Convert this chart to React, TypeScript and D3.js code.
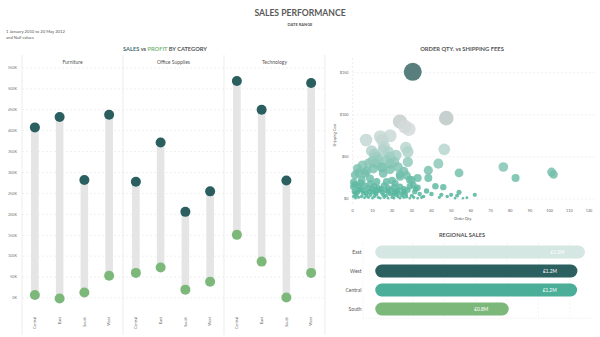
import React from 'react';
import * as d3 from 'd3';

const W = 600;
const H = 337;
const FONT = "Lato, 'Open Sans', sans-serif";

// ---- Sales vs Profit by Category (values in K) ----
const categories = ['Furniture', 'Office Supplies', 'Technology'];
const regions = ['Central', 'East', 'South', 'West'];
const furnitureSales = [408, 433, 282, 438];
const furnitureProfit = [7, -1, 13, 53];
const officeSales = [278, 372, 206, 255];
const officeProfit = [60, 73, 20, 39];
const techSales = [519, 450, 281, 514];
const techProfit = [151, 87, 1, 60];
const salesTicks = [0, 50, 100, 150, 200, 250, 300, 350, 400, 450, 500, 550];

// ---- Order qty vs shipping fees ----
const orderQty = [
  30.5, 47.5, 24, 28.5, 26.5, 19, 15, 6.8, 14, 27, 28, 46.5, 9.6, 15.5, 18, 22, 12, 19, 8, 10, 28, 19, 43.5, 2.5, 15, 19, 38.4, 76.5, 101, 102, 54, 82.7, 38.4, 33, 29, 24, 20,
  1.2, 6.2, 10.5, 14.7, 15.5, 8.8, 4.6, 12.2, 17.2, 24, 27.4, 21.5, 24, 30, 13, 17, 11, 16, 12, 5, 21, 7, 3, 23, 26,
  0.3, 2.9, 1.2, 5.4, 7.9, 10.5, 13.8, 15.5, 18, 20.6, 23, 25.6, 28, 31.5, 33, 27.4, 30.8, 37.5, 40, 42, 46, 45, 50, 53, 54, 62, 58,
  0.5, 1, 3, 4, 6, 9, 11, 13, 16, 18, 21, 22, 26, 29, 32, 34, 36,
  0.5, 1.5, 2, 3, 4.5, 6, 7, 8, 9, 10, 11, 12, 13, 14, 15, 16, 17, 18, 19, 20, 21, 22, 23, 24, 25, 26, 27, 29, 30, 31, 33, 35,
  0.8, 2.5, 4, 5.5, 7, 8.5, 10, 11.5, 12.5, 14.5, 17, 19.5, 21, 23.5, 26, 44, 48, 52, 56,
];
const shippingCost = [
  151, 96, 92, 83, 86, 75, 70, 70, 74, 61, 56, 59, 57, 58, 56, 52, 50, 50, 42, 45, 44, 42, 42, 36, 37, 35, 34, 38, 32, 29, 31, 25, 25, 25, 23, 29, 22,
  28.5, 30.5, 36, 38, 30.5, 24.5, 22.6, 20.6, 20.6, 26.5, 28, 18.6, 14.6, 22.6, 47, 46, 53, 62, 42, 40, 44, 33, 31, 38, 33,
  14.6, 10.7, 6.7, 6.7, 12.7, 8.7, 10.7, 4.8, 8.7, 4.8, 10.7, 6.7, 10.7, 8.7, 13.5, 2.8, 16.6, 9.5, 6, 15, 14, 5, 5, 4, 8, 5, 1.5,
  20, 17, 15, 19, 16, 18, 15, 13, 16, 13, 14, 9, 12, 15, 12, 6, 3,
  3, 1, 4, 2, 3, 1.5, 4, 2, 5, 1, 3, 6, 2, 1, 8, 2, 4, 1, 6, 2, 1, 5, 3, 1, 4, 2, 6, 1, 4, 2, 1, 2,
  9, 8, 11, 10, 7, 9, 12, 7, 10, 12, 10, 11, 8, 7, 9, 2, 3, 1, 0.8,
];
const qtyTicks = [0, 10, 20, 30, 40, 50, 60, 70, 80, 90, 100, 110, 120];
const costTicks = [0, 50, 100, 150];

// ---- Regional sales (M) ----
const regionNames = ['East', 'West', 'Central', 'South'];
const regionSales = [1.255, 1.207, 1.205, 0.769];
const regionColors = ['#d5e7e2', '#2b5f60', '#4bae99', '#7db87b'];
const regionGrid = [0.2, 0.4, 0.6, 0.8, 1.0, 1.2];

const DARK = '#2a5e5f';
const GREEN = '#7db87b';

export default function App() {
  // Dumbbell chart
  const y = d3.scaleLinear().domain([0, 550]).range([298, 68]);
  const panelX = d3.scaleBand<string>().domain(categories).range([22, 325]).padding(0);
  const catData = [
    { sales: furnitureSales, profit: furnitureProfit },
    { sales: officeSales, profit: officeProfit },
    { sales: techSales, profit: techProfit },
  ];

  // Scatter
  const sx = d3.scaleLinear().domain([0, 120]).range([352.7, 589]);
  const sy = d3.scaleLinear().domain([0, 150]).range([199, 72.7]);
  const sr = d3.scaleSqrt().domain([0, 151]).range([0.6, 9]);
  const sc = d3
    .scaleLinear<string>()
    .domain([0, 35, 60, 85, 151])
    .range(['#4db39a', '#7cc2b0', '#b9d6cf', '#d5dbda', '#3b6866']);
  const pts = orderQty
    .map((q, i) => ({ q, c: shippingCost[i] }))
    .sort((a, b) => b.c - a.c);

  // Regional
  const rx = d3.scaleLinear().domain([0, 1]).range([381.7, 538.5]);
  const ry = d3.scaleBand<string>().domain(regionNames).range([242.5, 318.5]).paddingInner(0.32).paddingOuter(0.16);
  const fmtM = (v: number) => '£' + d3.format('.1f')(v) + 'M';

  return (
    <svg
      width={W}
      height={H}
      style={{ position: 'absolute', left: 0, top: 0, background: '#fff' }}
      fontFamily={FONT}
    >
      {/* Titles */}
      <text x={300} y={15.5} textAnchor="middle" fontSize={8.6} fontWeight={700} fill="#5a5a5a">
        SALES PERFORMANCE
      </text>
      <text x={300} y={25.5} textAnchor="middle" fontSize={4} fontWeight={700} fill="#555">
        DATE RANGE
      </text>
      <text x={6} y={32.5} fontSize={4.2} fill="#555">
        1 January 2010 to 20 May 2012
      </text>
      <text x={6} y={38.5} fontSize={4.2} fill="#555">
        and Null values
      </text>
      <text x={165} y={51} textAnchor="middle" fontSize={5.7} fontWeight={700} fill="#555">
        <tspan fill="#3f6f70">SALES</tspan>
        <tspan> vs </tspan>
        <tspan fill={GREEN}>PROFIT</tspan>
        <tspan> BY CATEGORY</tspan>
      </text>
      <text x={462} y={51} textAnchor="middle" fontSize={5.8} fontWeight={700} fill="#555">
        ORDER QTY. vs SHIPPING FEES
      </text>

      {/* Dumbbell grid */}
      {salesTicks.map((t) => (
        <g key={'g' + t}>
          <line x1={22} x2={325} y1={y(t)} y2={y(t)} stroke="#e6e6e6" strokeWidth={0.6} strokeDasharray="2,2" />
          <text x={17} y={y(t) + 1.3} textAnchor="end" fontSize={3.8} fill="#777">
            {t + 'K'}
          </text>
        </g>
      ))}
      {[22, 123, 224, 325].map((xx) => (
        <line key={'v' + xx} x1={xx} x2={xx} y1={55} y2={335} stroke="#e4e4e4" strokeWidth={0.7} />
      ))}

      {categories.map((cat, ci) => {
        const x0 = panelX(cat)!;
        const bw = panelX.bandwidth();
        const rxs = d3.scaleBand<string>().domain(regions).range([x0 + 0.5, x0 + bw - 1.5]);
        const d = catData[ci];
        return (
          <g key={cat}>
            <text x={x0 + bw / 2} y={64} textAnchor="middle" fontSize={5} fill="#555">
              {cat}
            </text>
            {regions.map((r, ri) => {
              const cx = rxs(r)! + rxs.bandwidth() / 2;
              const s = d.sales[ri];
              const p = d.profit[ri];
              return (
                <g key={r}>
                  <rect x={cx - 3.8} y={y(Math.max(s, p))} width={7.6} height={Math.abs(y(p) - y(s))} fill="#e5e5e5" />
                  <circle cx={cx} cy={y(s)} r={5} fill={DARK} />
                  <circle cx={cx} cy={y(p)} r={5} fill={GREEN} />
                  <text
                    transform={`translate(${cx + 1.3},317) rotate(-90)`}
                    textAnchor="end"
                    fontSize={3.8}
                    fill="#555"
                  >
                    {r}
                  </text>
                </g>
              );
            })}
          </g>
        );
      })}

      {/* Scatter */}
      <line x1={352.7} x2={352.7} y1={58} y2={204} stroke="#e2e2e2" strokeWidth={0.6} strokeDasharray="2,2" />
      {costTicks.map((t) => (
        <g key={'c' + t}>
          <line x1={352.7} x2={595} y1={sy(t)} y2={sy(t)} stroke="#e4e4e4" strokeWidth={0.6} strokeDasharray="2,2" />
          <text x={348.5} y={sy(t) + 1.3} textAnchor="end" fontSize={3.8} fill="#666">
            {'$' + t}
          </text>
        </g>
      ))}
      {qtyTicks.map((t) => (
        <text key={'q' + t} x={sx(t)} y={212} textAnchor="middle" fontSize={3.8} fill="#666">
          {t}
        </text>
      ))}
      <text x={463} y={219.5} textAnchor="middle" fontSize={3.8} fill="#555">
        Order Qty.
      </text>
      <text transform="translate(335.5,135) rotate(-90)" textAnchor="middle" fontSize={3.8} fill="#555">
        Shipping Cost
      </text>
      {pts.map((p, i) => (
        <circle key={'p' + i} cx={sx(p.q)} cy={sy(p.c)} r={sr(p.c)} fill={sc(p.c)} fillOpacity={0.85} />
      ))}

      {/* Regional sales */}
      <text x={462} y={237} textAnchor="middle" fontSize={5.7} fontWeight={700} fill="#555">
        REGIONAL SALES
      </text>
      {regionGrid.map((g) => (
        <line key={'rg' + g} x1={rx(g)} x2={rx(g)} y1={243} y2={318} stroke="#ececec" strokeWidth={0.6} strokeDasharray="2,2" />
      ))}
      <line x1={363} x2={593} y1={318.3} y2={318.3} stroke="#e0e0e0" strokeWidth={0.6} strokeDasharray="1,1.5" />
      <line x1={363} x2={363} y1={243} y2={318.3} stroke="#e6e6e6" strokeWidth={0.6} strokeDasharray="1,1.5" />
      {regionNames.map((r, i) => {
        const yy = ry(r)!;
        const h = ry.bandwidth();
        const x1 = rx(regionSales[i]);
        const x0 = rx(0);
        return (
          <g key={r}>
            <rect x={x0 - h / 2} y={yy} width={x1 - x0 + h} height={h} rx={h / 2} fill={regionColors[i]} />
            <text x={x1 - 21} y={yy + h / 2 + 1.7} textAnchor="middle" fontSize={4.8} fill="#fff">
              {fmtM(regionSales[i])}
            </text>
            <text x={361.5} y={yy + h / 2 + 1.8} textAnchor="end" fontSize={5} fill="#555">
              {r}
            </text>
          </g>
        );
      })}
    </svg>
  );
}
